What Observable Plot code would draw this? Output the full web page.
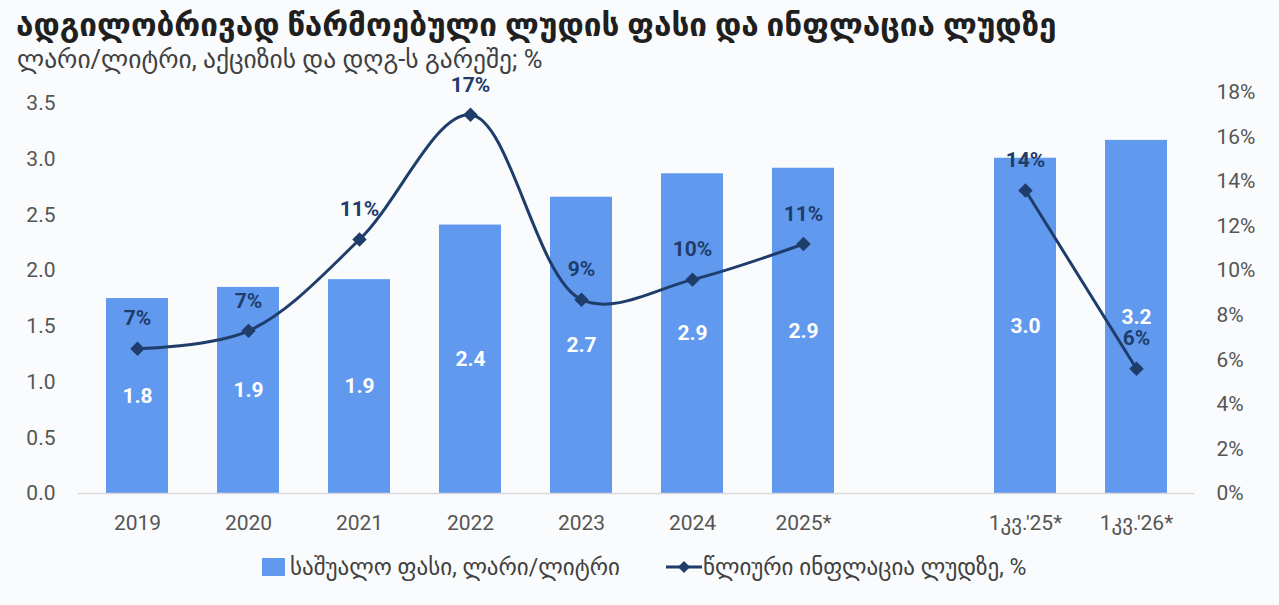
<!DOCTYPE html>
<html>
<head>
<meta charset="utf-8">
<script src="https://cdn.jsdelivr.net/npm/d3@7"></script>
<script src="https://cdn.jsdelivr.net/npm/@observablehq/plot@0.6"></script>
<style>
  html, body { margin: 0; padding: 0; background: #fafbfc; }
  body { width: 1279px; height: 605px; position: relative; overflow: hidden;
         font-family: Roboto, "DejaVu Sans", sans-serif; }
  #title { position: absolute; left: 16px; top: 7px; font-size: 31.5px; font-weight: bold; color: #1f1f1f; white-space: nowrap; line-height: 38px; }
  #subtitle { position: absolute; left: 17px; top: 44px; font-size: 25.5px; color: #404040; white-space: nowrap; line-height: 30px; }
  #chart { position: absolute; left: 0; top: 72px; }
  #legend { position: absolute; top: 553px; left: 0; width: 1279px; height: 28px; font-size: 23px; color: #404040; }
  .lg { position: absolute; top: 0; display: flex; align-items: center; height: 28px; white-space: nowrap; }
  .sw { width: 23px; height: 18px; background: #6199ef; margin-right: 5px; }
</style>
</head>
<body>
<div id="title">ადგილობრივად წარმოებული ლუდის ფასი და ინფლაცია ლუდზე</div>
<div id="subtitle">ლარი/ლიტრი, აქციზის და დღგ-ს გარეშე; %</div>
<div id="chart"></div>
<div id="legend">
  <div class="lg" style="left:262px"><div class="sw"></div><span>საშუალო ფასი, ლარი/ლიტრი</span></div>
  <div class="lg" style="left:666px"><svg width="36" height="16" style="margin-right:1px"><line x1="0" y1="8" x2="36" y2="8" stroke="#1f3d6b" stroke-width="3"/><path d="M18 2 L24 8 L18 14 L12 8 Z" fill="#1f3d6b"/></svg><span>წლიური ინფლაცია ლუდზე, %</span></div>
</div>
<script>
const categories = ["2019", "2020", "2021", "2022", "2023", "2024", "2025*", " ", "1კვ.'25*", "1კვ.'26*"];
const priceCats = ["2019", "2020", "2021", "2022", "2023", "2024", "2025*", "1კვ.'25*", "1კვ.'26*"];
const price = [1.75, 1.85, 1.92, 2.41, 2.66, 2.87, 2.92, 3.01, 3.17];
const inflation = [6.5, 7.3, 11.4, 17.0, 8.7, 9.6, 11.2, 13.6, 5.6];
const inflGroup = ["annual", "annual", "annual", "annual", "annual", "annual", "annual", "quarter", "quarter"];
const leftTicks = [0, 0.5, 1.0, 1.5, 2.0, 2.5, 3.0, 3.5];
const rightTicks = [0, 2, 4, 6, 8, 10, 12, 14, 16, 18];
const leftMax = 3.6, rightMax = 18;

const k = leftMax / rightMax;
const bars = priceCats.map((c, i) => ({cat: c, price: price[i]}));
const infl = priceCats.map((c, i) => ({cat: c, infl: inflation[i], grp: inflGroup[i]}));

const navy = "#1f3d6b";
const chart = Plot.plot({
  width: 1279,
  height: 470,
  marginLeft: 78,
  marginRight: 85,
  marginTop: 20,
  marginBottom: 49,
  style: { background: "transparent", fontFamily: "Roboto, 'DejaVu Sans', sans-serif", fontSize: "21px", color: "#595959" },
  x: { domain: categories, paddingInner: 0.445, paddingOuter: 0.2225, align: 0.5, label: null },
  y: { domain: [0, leftMax], label: null },
  marks: [
    Plot.barY(bars, { x: "cat", y: "price", fill: "#6199ef" }),
    Plot.ruleY([0], { stroke: "#d9d9d9", strokeWidth: 1.5 }),
    Plot.axisX({ tickSize: 0, tickPadding: 22, fontSize: 21, fill: "#555", label: null }),
    Plot.axisY(leftTicks, { anchor: "left", tickSize: 0, tickPadding: 23, fontSize: 21, fill: "#555", tickFormat: d => d.toFixed(1), label: null }),
    Plot.axisY(rightTicks.map(v => v * k), { anchor: "right", tickSize: 0, tickPadding: 22, fontSize: 21, fill: "#555", tickFormat: d => Math.round(d / k) + "%", label: null }),
    Plot.text(bars, { x: "cat", y: d => d.price / 2, text: d => d.price.toFixed(1), fill: "white", fontWeight: "bold", fontSize: 21 }),
    Plot.line(infl, { x: "cat", y: d => d.infl * k, z: "grp", stroke: navy, strokeWidth: 3, curve: "catmull-rom" }),
    Plot.dot(infl, { x: "cat", y: d => d.infl * k, symbol: "diamond2", r: 6.5, fill: navy }),
    Plot.text(infl, { x: "cat", y: d => d.infl * k, dy: -30, text: d => Math.round(d.infl) + "%", fill: navy, fontWeight: "bold", fontSize: 21 })
  ]
});
document.getElementById("chart").appendChild(chart);
</script>
</body>
</html>
